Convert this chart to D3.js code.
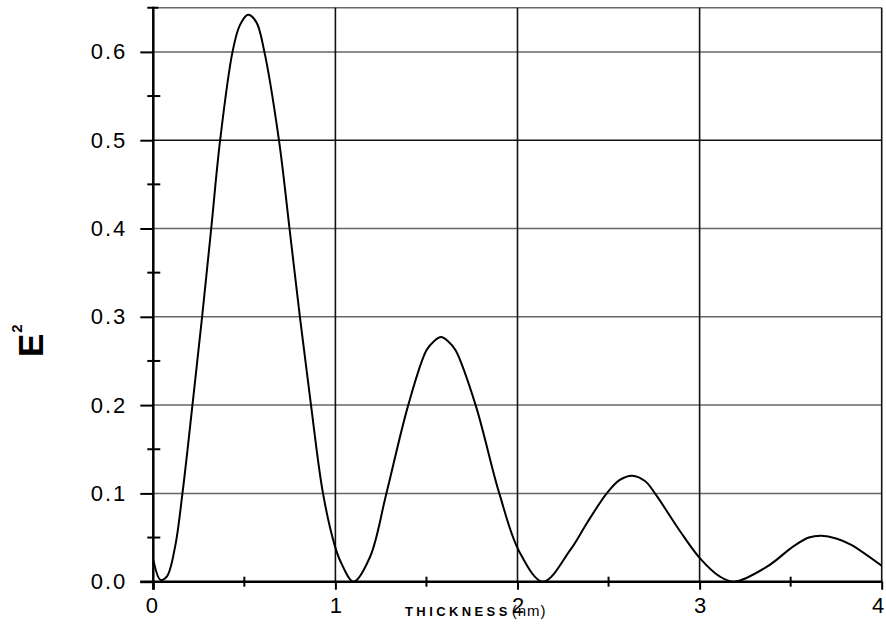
<!DOCTYPE html>
<html>
<head>
<meta charset="utf-8">
<script src="https://cdn.jsdelivr.net/npm/d3@7"></script>
<style>
  html, body { margin: 0; padding: 0; background: #fff; }
  svg { display: block; }
</style>
</head>
<body>
<svg id="chart" width="886" height="625"></svg>
<script>
// ---- data ----
const thickness = [0.00, 0.04, 0.075, 0.12, 0.16, 0.215, 0.268, 0.318, 0.367, 0.435, 0.475, 0.52, 0.565, 0.61, 0.69, 0.748, 0.805, 0.866, 0.932, 0.995, 1.03, 1.10, 1.19, 1.28, 1.40, 1.50, 1.54, 1.58, 1.62, 1.66, 1.77, 1.90, 2.01, 2.14, 2.29, 2.38, 2.49, 2.56, 2.63, 2.70, 2.755, 2.89, 3.00, 3.11, 3.19, 3.37, 3.515, 3.60, 3.67, 3.75, 3.83, 4.00];
const eSquared  = [0.025, 0.002, 0.006, 0.040, 0.100, 0.200, 0.300, 0.400, 0.500, 0.600, 0.630, 0.642, 0.634, 0.600, 0.500, 0.400, 0.300, 0.200, 0.100, 0.042, 0.022, 0.000, 0.028, 0.100, 0.200, 0.262, 0.272, 0.277, 0.272, 0.262, 0.200, 0.100, 0.034, 0.000, 0.036, 0.066, 0.100, 0.115, 0.120, 0.114, 0.100, 0.058, 0.027, 0.006, 0.000, 0.017, 0.040, 0.050, 0.052, 0.049, 0.042, 0.018];
const xTicks = [0, 1, 2, 3, 4];
const xMinorTicks = [0.5, 1.5, 2.5, 3.5];
const yTicks = [0.0, 0.1, 0.2, 0.3, 0.4, 0.5, 0.6];
const yMinorTicks = [0.05, 0.15, 0.25, 0.35, 0.45, 0.55];
const yTop = 0.65;
const xTitle = "THICKNESS";
const xTitleUnit = "(nm)";

const points = thickness.map((t, i) => ({ x: t, y: eSquared[i] }));

// ---- layout ----
const svg = d3.select("#chart");
const x = d3.scaleLinear().domain([0, 4]).range([153.3, 881.7]);
const y = d3.scaleLinear().domain([0, yTop]).range([581.7, 581.7 - yTop * 883]);
const font = "'Liberation Sans', Arial, sans-serif";

svg.append("defs").append("clipPath").attr("id", "plotclip")
  .append("rect")
  .attr("x", x(0)).attr("y", y(yTop) - 2)
  .attr("width", x(4) - x(0) + 2).attr("height", y(0) - y(yTop) + 3);

// horizontal gridlines
svg.append("g").selectAll("line")
  .data(yTicks.filter(d => d > 0).concat([yTop]))
  .join("line")
  .attr("x1", x(0)).attr("x2", x(4))
  .attr("y1", d => y(d)).attr("y2", d => y(d))
  .attr("stroke", d => d === 0.5 ? "#111" : "#666")
  .attr("stroke-width", 1.5);

// vertical gridlines
svg.append("g").selectAll("line")
  .data(xTicks.filter(d => d > 0))
  .join("line")
  .attr("x1", d => x(d)).attr("x2", d => x(d))
  .attr("y1", y(yTop)).attr("y2", y(0))
  .attr("stroke", "#111")
  .attr("stroke-width", 1.6);

// y axis
const yAxis = svg.append("g")
  .attr("transform", `translate(${x(0)},0)`)
  .call(d3.axisLeft(y).tickValues(yTicks).tickSize(13).tickPadding(13).tickFormat(d3.format(".1f")));
yAxis.select(".domain").remove();
yAxis.selectAll(".tick line").attr("stroke", "#000").attr("stroke-width", 2);
yAxis.selectAll(".tick text")
  .attr("font-family", font).attr("font-size", 22).attr("fill", "#000")
  .attr("letter-spacing", "2px");

// y minor ticks (crossing)
svg.append("g").selectAll("line")
  .data(yMinorTicks)
  .join("line")
  .attr("x1", x(0) - 6).attr("x2", x(0) + 7)
  .attr("y1", d => y(d)).attr("y2", d => y(d))
  .attr("stroke", "#000").attr("stroke-width", 2);

// x axis
const xAxis = svg.append("g")
  .attr("transform", `translate(0,${y(0)})`)
  .call(d3.axisBottom(x).tickValues(xTicks).tickSize(8).tickPadding(8).tickFormat(d3.format("d")));
xAxis.select(".domain").remove();
xAxis.selectAll(".tick line").attr("stroke", "#000").attr("stroke-width", 2);
xAxis.selectAll(".tick text")
  .attr("font-family", font).attr("font-size", 22).attr("fill", "#000")
  .attr("dx", d => d === 4 ? -4 : (d === 0 ? -2 : 0));

// x minor ticks
svg.append("g").selectAll("line")
  .data(xMinorTicks)
  .join("line")
  .attr("x1", d => x(d)).attr("x2", d => x(d))
  .attr("y1", y(0) - 5).attr("y2", y(0) + 5)
  .attr("stroke", "#000").attr("stroke-width", 2);

// axis lines
svg.append("line")
  .attr("x1", x(0)).attr("x2", x(0))
  .attr("y1", y(yTop) - 1).attr("y2", y(0) + 8)
  .attr("stroke", "#000").attr("stroke-width", 2.5);
svg.append("line")
  .attr("x1", x(0) - 13).attr("x2", x(4) + 1)
  .attr("y1", y(0)).attr("y2", y(0))
  .attr("stroke", "#000").attr("stroke-width", 2.5);
// top-left small tick
svg.append("line")
  .attr("x1", x(0) - 6).attr("x2", x(0) + 5)
  .attr("y1", y(yTop)).attr("y2", y(yTop))
  .attr("stroke", "#000").attr("stroke-width", 2);

// curve
const line = d3.line()
  .x(d => x(d.x)).y(d => y(d.y))
  .curve(d3.curveCatmullRom.alpha(0.5));
svg.append("path")
  .datum(points)
  .attr("clip-path", "url(#plotclip)")
  .attr("d", line)
  .attr("fill", "none")
  .attr("stroke", "#000")
  .attr("stroke-width", 2);

// x axis title
const xt = svg.append("text")
  .attr("x", 405).attr("y", 616)
  .attr("font-family", font).attr("fill", "#000");
xt.append("tspan").text(xTitle)
  .attr("font-size", 13).attr("font-weight", "bold").attr("letter-spacing", "3.4px");
xt.append("tspan").text(xTitleUnit)
  .attr("font-size", 15).attr("dx", 1).attr("letter-spacing", "1px");

// y axis title E²
const yt = svg.append("text")
  .attr("transform", "translate(43,357) rotate(-90)")
  .attr("font-family", font).attr("fill", "#000");
yt.append("tspan").text("E")
  .attr("font-size", 35).attr("font-weight", "bold");
yt.append("tspan").text("2")
  .attr("font-size", 15).attr("font-weight", "bold").attr("dy", -21).attr("dx", 1);
</script>
</body>
</html>
